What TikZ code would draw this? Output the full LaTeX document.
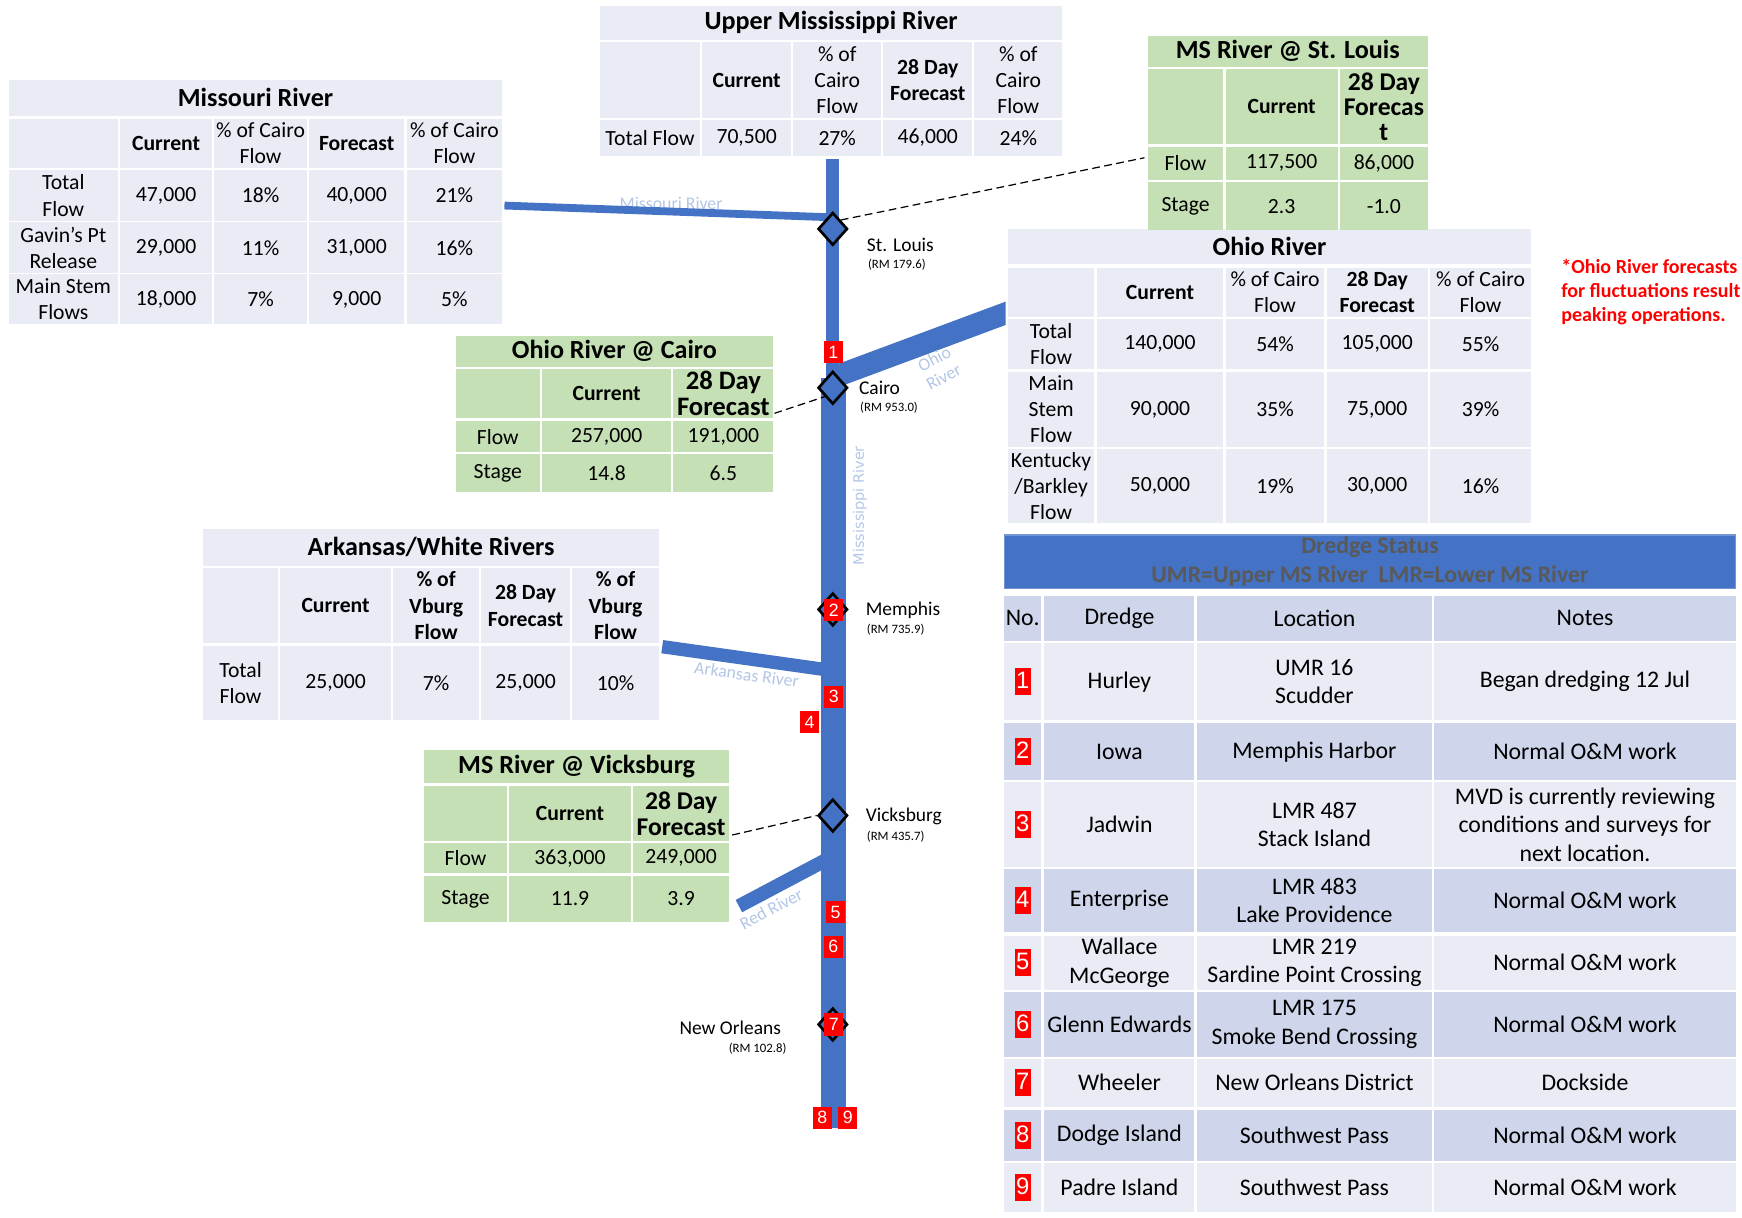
\documentclass[tikz,border=0pt]{standalone}
\usepackage{fontspec}
\setmainfont{Carlito}
\newfontfamily\arialfont{Liberation Sans}
\newfontfamily\verdfont{DejaVu Sans}
\usepackage{tikz}
\usetikzlibrary{shapes.geometric}
\definecolor{lav}{HTML}{E9EBF5}
\definecolor{lavdk}{HTML}{CFD5EA}
\definecolor{grn}{HTML}{C5E0B4}
\definecolor{riv}{HTML}{4472C4}
\definecolor{rivtxt}{HTML}{B4C7E7}
\definecolor{ttl}{HTML}{595959}
\newcommand{\tabfont}{\fontsize{19.5}{23.5}\selectfont}
\newcommand{\ttlfont}{\fontsize{23.5}{28}\selectfont\bfseries}
\newcommand{\drfont}{\fontsize{21.4}{25.6}\selectfont}
\newcommand{\fcfont}{\fontsize{23}{23}\selectfont\bfseries}
\newcommand{\badge}[1]{{\setlength{\fboxsep}{1pt}\colorbox{red}{\rule[-5pt]{0pt}{22pt}\arialfont\textcolor{white}{#1}}}}
% one table body: name, left edges, right edges, rows top/bottom/{cells}
\newcommand{\tabgrid}[4]{%
  \foreach \ya/\yb/\row [count=\ri] in {#4} {
    \foreach \txt [count=\ci] in \row {
      \pgfmathsetmacro{\xa}{{#2}[\ci-1]}
      \pgfmathsetmacro{\xb}{{#3}[\ci-1]}
      \node[cell,row \ri/.try,minimum width=\xb-\xa,minimum height=\yb-\ya]
        (#1-\ri-\ci) at ({(\xa+\xb)/2},{(\ya+\yb)/2}) {\txt};
    }
  }}

\begin{document}
\begin{tikzpicture}[x=1pt,y=-1pt]
  \tikzstyle{cell}=[rectangle,fill=lav,inner sep=0pt,align=center,font=\tabfont]
  \tikzstyle{head}=[cell,font=\ttlfont]
  \tikzstyle{river}=[draw=riv]
  \tikzstyle{gauge}=[diamond,draw=black,line width=2.4pt,fill=riv,minimum width=26.5pt,minimum height=29.5pt,inner sep=0pt]
  \tikzstyle{badge}=[rectangle,fill=red,text=white,font=\arialfont\fontsize{16}{18}\selectfont,minimum width=17pt,minimum height=20pt,inner sep=0pt]
  \tikzstyle{town}=[font=\fontsize{17.5}{20}\selectfont,inner sep=0pt]
  \tikzstyle{rm}=[font=\fontsize{11.5}{13}\selectfont,inner sep=0pt]
  \tikzstyle{rlab}=[text=rivtxt,font=\fontsize{16}{18}\selectfont,inner sep=0pt]
  \tikzstyle{leader}=[black,line width=1.1pt,dash pattern=on 7pt off 4pt]

  \useasboundingbox (0,0) rectangle (1567.8,1096.2);
  \fill[white] (0,0) rectangle (1567.8,1096.2);

  % rivers
  \node[rlab] (molab) at (604,183) {Missouri River};
  \draw[river,line width=11.5] (749,143.5) -- (749,345);
  \draw[river,line width=22.5] (749.75,340) -- (749.75,1015);
  \draw[river,line width=7] (454,185) -- (749,195.6);
  \begin{scope}
    \clip (0,0) rectangle (905,1096);
    \draw[river,line width=19.7] (749,340) -- (930,272.7);
  \end{scope}
  \draw[river,line width=12] (596,582) -- (749,603.5);
  \draw[river,line width=12.5] (749,771) -- (665,815.5);
  \node[rlab,rotate=28,align=center] (ohlab) at (845,331) {Ohio\\River};
  \node[rlab,rotate=90,font=\verdfont\fontsize{13}{15}\selectfont] (mslab) at (774,455) {Mississippi River};
  \node[rlab,rotate=-8] (arlab) at (672,607) {Arkansas River};
  \node[rlab,rotate=28] (rdlab) at (694,818) {Red River};

  % gauges
  \node[gauge] (stl) at (749.5,206) {};
  \node[gauge] (cai) at (749.5,349) {};
  \node[gauge] (mem) at (749.5,548.5) {};
  \node[gauge] (vic) at (749.5,734) {};
  \node[gauge] (nol) at (749.5,922) {};

  \node[badge] (b1) at (750,317) {1};
  \node[badge] (b2) at (750.5,549) {2};
  \node[badge] (b3) at (750.5,627) {3};
  \node[badge] (b4) at (728.5,650) {4};
  \node[badge] (b5) at (752,821) {5};
  \node[badge] (b6) at (750,852) {6};
  \node[badge] (b7) at (750.5,922) {7};
  \node[badge] (b8) at (740,1006) {8};
  \node[badge] (b9) at (763,1006) {9};

  \node[town,anchor=west] (stln) at (780,220) {St. Louis};
  \node[rm,anchor=west] (stlr) at (781,238) {(RM 179.6)};
  \node[town,anchor=west] (cain) at (773,349) {Cairo};
  \node[rm,anchor=west] (cair) at (774,367) {(RM 953.0)};
  \node[town,anchor=west] (memn) at (779,549) {Memphis};
  \node[rm,anchor=west] (memr) at (780,567) {(RM 735.9)};
  \node[town,anchor=west] (vicn) at (779,735) {Vicksburg};
  \node[rm,anchor=west] (vicr) at (780,753) {(RM 435.7)};
  \node[town,anchor=east] (noln) at (703,925) {New Orleans};
  \node[rm,anchor=east] (nolr) at (708,944) {(RM 102.8)};

  % tables
  \node[head,minimum width=416,minimum height=31] (um) at (748,20.5) {Upper Mississippi River};
  \tabgrid{um}{540,632,714,795,877}{630,712,793,875,956}{
    38/106/{{},\textbf{Current},{\% of\\Cairo\\Flow},{\textbf{28 Day}\\\textbf{Forecast}},{\% of\\Cairo\\Flow}},
    108/140/{Total Flow,{70,500},27\%,{46,000},24\%}}

  \node[head,minimum width=444,minimum height=32] (mo) at (230,88) {Missouri River};
  \tabgrid{mo}{8,108,193,278,366}{106,191,276,364,452}{
    107/151/{{},\textbf{Current},{\% of Cairo\\Flow},\textbf{Forecast},{\% of Cairo\\Flow}},
    153/199/{{Total\\Flow},{47,000},18\%,{40,000},21\%},
    200/246/{{Gavin’s Pt\\Release},{29,000},11\%,{31,000},16\%},
    247/292/{{Main Stem\\Flows},{18,000},7\%,{9,000},5\%}}

  \node[head,minimum width=471,minimum height=32] (oh) at (1142.5,222) {Ohio River};
  \tabgrid{oh}{907,987,1103,1194,1287}{985,1101,1192,1285,1378}{
    241/285/{{},\textbf{Current},{\% of Cairo\\Flow},{\textbf{28 Day}\\\textbf{Forecast}},{\% of Cairo\\Flow}},
    287/332/{{Total\\Flow},{140,000},54\%,{105,000},55\%},
    335/402/{{Main\\Stem\\Flow},{90,000},35\%,{75,000},39\%},
    404/471/{{Kentucky\\/Barkley\\Flow},{50,000},19\%,{30,000},16\%}}

  \node[head,minimum width=410,minimum height=33] (ar) at (388,492.5) {Arkansas/White Rivers};
  \tabgrid{ar}{183,252,354,433,515}{250,352,431,513,593}{
    511/579/{{},\textbf{Current},{\textbf{\% of}\\\textbf{Vburg}\\\textbf{Flow}},{\textbf{28 Day}\\\textbf{Forecast}},{\textbf{\% of}\\\textbf{Vburg}\\\textbf{Flow}}},
    581/648/{{Total\\Flow},{25,000},7\%,{25,000},10\%}}

  \begin{scope}[cell/.append style={fill=grn}]
    \node[head,minimum width=252,minimum height=28] (sl) at (1159,46) {MS River @ St. Louis};
    \tabgrid{sl}{1033,1103,1206}{1101,1204,1285}{
      62/130/{{},\textbf{Current},{{\fcfont 28 Day}\\[-1pt]{\fcfont Forecas}\\[-1pt]{\fcfont t}}},
      132/162/{Flow,{117,500},{86,000}},
      164/207/{Stage,2.3,-1.0}}
    \node[head,minimum width=286,minimum height=28] (ct) at (553,316) {Ohio River @ Cairo};
    \tabgrid{ct}{410,488,606}{486,604,696}{
      332/376/{{},\textbf{Current},{{\fontsize{24}{24}\selectfont\bfseries 28 Day}\\{\fontsize{24}{24}\selectfont\bfseries Forecast}}},
      379/407/{Flow,{257,000},{191,000}},
      409/443/{Stage,14.8,6.5}}
    \node[head,minimum width=274,minimum height=30] (vt) at (519,690) {MS River @ Vicksburg};
    \tabgrid{vt}{382,458,570}{456,568,656}{
      707/757/{{},\textbf{Current},{{\fcfont 28 Day}\\{\fcfont Forecast}}},
      759/786/{Flow,{363,000},{249,000}},
      788/830/{Stage,11.9,3.9}}
  \end{scope}

  \node[cell,fill=riv,draw=riv!75!white,line width=1pt,text=ttl,font=\drfont\bfseries,minimum width=658,minimum height=48] (dr) at (1233,505.5) {Dredge Status\\UMR=Upper MS River\ \ LMR=Lower MS River};
  \begin{scope}[cell/.append style={font=\drfont},row 1/.style={fill=lavdk},row 3/.style={fill=lavdk},
                row 5/.style={fill=lavdk},row 7/.style={fill=lavdk},row 9/.style={fill=lavdk}]
    \tabgrid{dr}{904,940,1077,1291}{937,1075,1289,1562}{
      536/577/{No.,Dredge,Location,Notes},
      579/648/{\badge{1},Hurley,{UMR 16\\Scudder},Began dredging 12 Jul},
      651/702/{\badge{2},Iowa,Memphis Harbor,Normal O\&M work},
      704/780/{\badge{3},Jadwin,{LMR 487\\Stack Island},{MVD is currently reviewing\\conditions and surveys for\\next location.}},
      782/839/{\badge{4},Enterprise,{LMR 483\\Lake Providence},Normal O\&M work},
      842/891/{\badge{5},{Wallace\\McGeorge},{LMR 219\\Sardine Point Crossing},Normal O\&M work},
      893/951/{\badge{6},Glenn Edwards,{LMR 175\\Smoke Bend Crossing},Normal O\&M work},
      953/996/{\badge{7},Wheeler,New Orleans District,Dockside},
      999/1045/{\badge{8},Dodge Island,Southwest Pass,Normal O\&M work},
      1047/1091/{\badge{9},Padre Island,Southwest Pass,Normal O\&M work}}
  \end{scope}

  \node[text=red,font=\fontsize{18}{21.8}\selectfont\bfseries,align=left,anchor=west,inner sep=0pt] (note) at (1405,263) {*Ohio River forecasts\\for fluctuations result\\peaking operations.};

  % leaders
  \coordinate (slpt) at (1030,142);
  \coordinate (ctpt) at (697,372);
  \coordinate (vtpt) at (659,751.5);
  \draw[leader] (stl.north east) -- (slpt);
  \draw[leader] (ctpt) -- (cai.south west);
  \draw[leader] (vtpt) -- (vic.west);
\end{tikzpicture}
\end{document}
